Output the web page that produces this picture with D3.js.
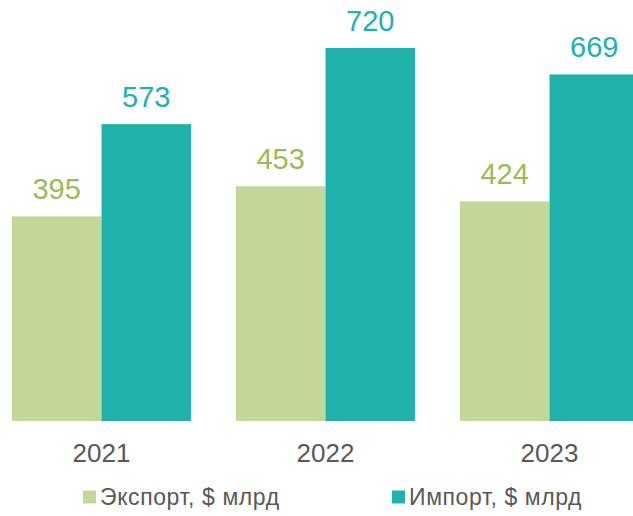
<!DOCTYPE html>
<html>
<head>
<meta charset="utf-8">
<script src="https://cdn.jsdelivr.net/npm/d3@7"></script>
<style>
  body { margin: 0; background: #fff; }
  svg { display: block; font-family: "Liberation Sans", Arial, sans-serif; }
</style>
</head>
<body>
<div id="chart"></div>
<script>
const years = ['2021', '2022', '2023'];
const exportValues = [395, 453, 424];
const importValues = [573, 720, 669];
const seriesNames = ['Экспорт, $ млрд', 'Импорт, $ млрд'];
const seriesColors = ['#c4d79b', '#20b2aa'];
const labelColors = ['#9bbb59', '#20b2aa'];

const width = 633, height = 516;
const baseline = 421;

const svg = d3.select('#chart').append('svg')
  .attr('width', width)
  .attr('height', height);

const x0 = d3.scaleBand()
  .domain(years)
  .range([-10.5, 661.5])
  .paddingInner(0.2)
  .paddingOuter(0.1);

const x1 = d3.scaleBand()
  .domain([0, 1])
  .range([0, x0.bandwidth()]);

const y = d3.scaleLinear()
  .domain([0, 720])
  .range([baseline, 48]);

const rows = years.map((yr, i) => ({ year: yr, values: [exportValues[i], importValues[i]] }));

const groups = svg.selectAll('g.year')
  .data(rows)
  .join('g')
  .attr('class', 'year')
  .attr('transform', d => 'translate(' + x0(d.year) + ',0)');

groups.selectAll('rect')
  .data(d => d.values.map((v, k) => ({ k: k, v: v })))
  .join('rect')
  .attr('x', d => x1(d.k))
  .attr('y', d => y(d.v))
  .attr('width', x1.bandwidth())
  .attr('height', d => baseline - y(d.v))
  .attr('fill', d => seriesColors[d.k]);

groups.selectAll('text.val')
  .data(d => d.values.map((v, k) => ({ k: k, v: v })))
  .join('text')
  .attr('class', 'val')
  .attr('x', d => x1(d.k) + x1.bandwidth() / 2)
  .attr('y', d => y(d.v) - 17)
  .attr('text-anchor', 'middle')
  .attr('font-size', 29)
  .attr('fill', d => labelColors[d.k])
  .text(d => d.v);

// year axis, no line
const axis = svg.append('g')
  .attr('transform', 'translate(0,' + baseline + ')')
  .call(d3.axisBottom(x0).tickSize(0).tickPadding(0));
axis.select('.domain').remove();
axis.selectAll('text')
  .attr('y', 41)
  .attr('dy', null)
  .attr('font-size', 26)
  .attr('font-family', '"Liberation Sans", Arial, sans-serif')
  .attr('fill', '#595959');

// legend
const legendX = [83, 392];
const legend = svg.selectAll('g.legend')
  .data(seriesNames)
  .join('g')
  .attr('class', 'legend')
  .attr('transform', (d, i) => 'translate(' + legendX[i] + ',497)');

legend.append('rect')
  .attr('x', 0)
  .attr('y', -6.5)
  .attr('width', 13)
  .attr('height', 13)
  .attr('fill', (d, i) => seriesColors[i]);

legend.append('text')
  .attr('x', 17)
  .attr('y', 8)
  .attr('font-size', 23)
  .attr('letter-spacing', 0.6)
  .attr('fill', '#595959')
  .text(d => d);
</script>
</body>
</html>
